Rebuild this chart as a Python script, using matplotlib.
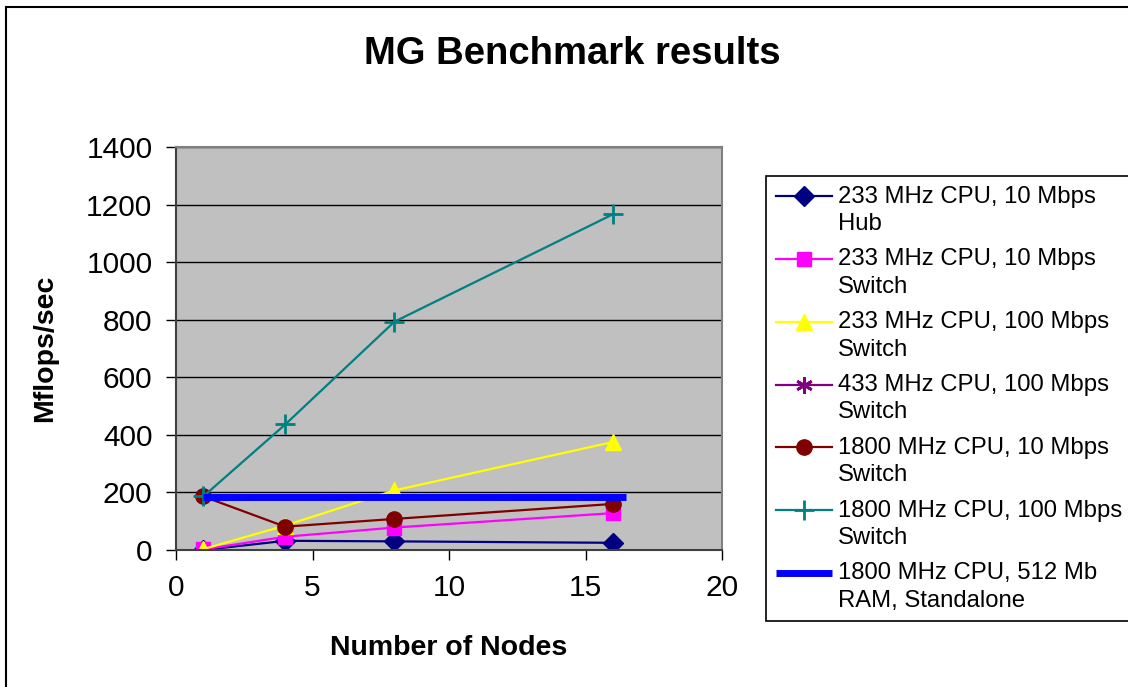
import numpy as np
import matplotlib.pyplot as plt
from matplotlib.lines import Line2D
from matplotlib.patches import Rectangle
from matplotlib.legend_handler import HandlerLine2D

plt.rcParams['font.family'] = ['Liberation Sans', 'DejaVu Sans']

nodes = [1, 4, 8, 16]
hub_233_10 = [0, 32, 30, 25]
sw_233_10 = [2, 46, 78, 128]
sw_233_100 = [3, 85, 207, 375]
sw_433_100 = []
sw_1800_10 = [186, 81, 108, 160]
sw_1800_100 = [186, 436, 793, 1166]
standalone_x = [1, 16.5]
standalone_y = [184, 184]

labels = ['233 MHz CPU, 10 Mbps\nHub',
          '233 MHz CPU, 10 Mbps\nSwitch',
          '233 MHz CPU, 100 Mbps\nSwitch',
          '433 MHz CPU, 100 Mbps\nSwitch',
          '1800 MHz CPU, 10 Mbps\nSwitch',
          '1800 MHz CPU, 100 Mbps\nSwitch',
          '1800 MHz CPU, 512 Mb\nRAM, Standalone']


# legend handle sits on the first line of the label, like in excel
class TopHandler(HandlerLine2D):
    def create_artists(self, legend, orig_handle, xdescent, ydescent,
                       width, height, fontsize, trans):
        return super().create_artists(legend, orig_handle, xdescent,
                                      ydescent - 1.2 * fontsize, width,
                                      height, fontsize, trans)


fig = plt.figure(figsize=(11.28, 6.87), dpi=100)
ax = fig.add_axes([176/1128, 1-550/687, (722-176)/1128, (550-147)/687])
ax.set_facecolor('#C0C0C0')

ax.plot(nodes, hub_233_10, '-D', color='#000080', lw=1.6, ms=10, label=labels[0])
ax.plot(nodes, sw_233_10, '-s', color='#FF00FF', lw=1.6, ms=10, label=labels[1])
ax.plot(nodes, sw_233_100, '-^', color='#FFFF00', lw=1.6, ms=11, label=labels[2])
ax.plot(sw_433_100, sw_433_100, '-*', color='#800080', lw=1.6, ms=12,
        marker=(6, 2, 0), mew=2, label=labels[3])
ax.plot(nodes, sw_1800_10, '-o', color='#800000', lw=1.6, ms=11, label=labels[4])
ax.plot(nodes, sw_1800_100, '-+', color='#008080', lw=1.6, ms=14, mew=2, label=labels[5])
ax.plot(standalone_x, standalone_y, '-', color='#0000FF', lw=5, solid_capstyle='butt',
        label=labels[6])

ax.set_xlim(0, 20)
ax.set_ylim(0, 1400)
ax.set_xticks([0, 5, 10, 15, 20])
ax.set_yticks(np.arange(0, 1401, 200))
ax.yaxis.grid(True, color='black', lw=1)
ax.set_axisbelow(True)
ax.tick_params(labelsize=21.5, length=7, width=1, pad=10, direction='out')
for s in ['top', 'right']:
    ax.spines[s].set_color('#808080')
    ax.spines[s].set_linewidth(1.5)
for s in ['left', 'bottom']:
    ax.spines[s].set_color('#404040')
    ax.spines[s].set_linewidth(1.5)

ax.set_xlabel('Number of Nodes', fontsize=20.5, fontweight='bold', labelpad=24)
ax.set_ylabel('Mflops/sec', fontsize=20.5, fontweight='bold', labelpad=20)
fig.text(572/1128, 1-54/687, 'MG Benchmark results', fontsize=27.5,
         fontweight='bold', ha='center', va='center')

leg = ax.legend(loc='upper left', bbox_to_anchor=(766/1128, 1-176/687),
                bbox_transform=fig.transFigure, fontsize=17.2, frameon=True,
                fancybox=False, framealpha=1, edgecolor='black',
                handlelength=2.35, handletextpad=0.25, borderpad=0.4,
                labelspacing=0.56, borderaxespad=0,
                handler_map={Line2D: TopHandler()})
leg.get_frame().set_linewidth(1.2)
for t in leg.get_texts():
    t.set_linespacing(1.32)

# outer chart border
fig.add_artist(Rectangle((6/1128, -0.2), 1.2, 1.2 + (1-7/687) - 1,
                         transform=fig.transFigure, fill=False,
                         edgecolor='black', lw=1.5))

fig.savefig('out.png', dpi=100)
